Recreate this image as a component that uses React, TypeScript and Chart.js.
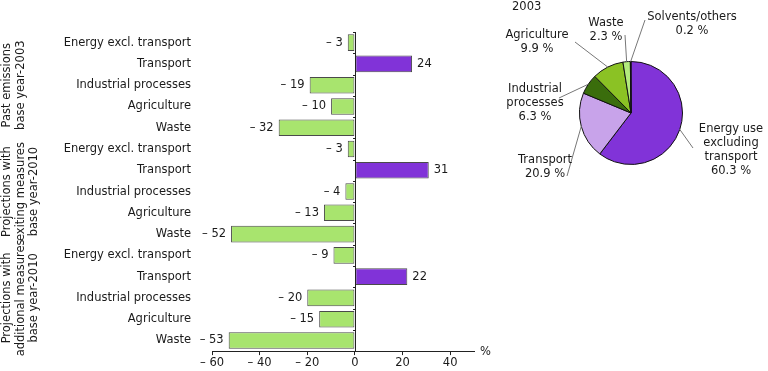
import React, { useEffect, useRef } from "react";
import { Chart, registerables } from "chart.js";

Chart.register(...registerables);

const categories = [
  "Energy excl. transport", "Transport", "Industrial processes", "Agriculture", "Waste",
  "Energy excl. transport", "Transport", "Industrial processes", "Agriculture", "Waste",
  "Energy excl. transport", "Transport", "Industrial processes", "Agriculture", "Waste",
];
const changeValues = [-3, 24, -19, -10, -32, -3, 31, -4, -13, -52, -9, 22, -20, -15, -53];
const groupLabels = [
  ["Past emissions", "base year-2003"],
  ["Projections with", "exiting measures", "base year-2010"],
  ["Projections with", "additional measures", "base year-2010"],
];
const xTicks = [-60, -40, -20, 0, 20, 40];

const pieTitle = "2003";
const pieLabels = ["Energy use excluding transport", "Transport", "Industrial processes", "Agriculture", "Waste", "Solvents/others"];
const pieValues = [60.3, 20.9, 6.3, 9.9, 2.3, 0.2];
const pieLabelLines = [
  ["Energy use", "excluding", "transport", "60.3 %"],
  ["Transport", "20.9 %"],
  ["Industrial", "processes", "6.3 %"],
  ["Agriculture", "9.9 %"],
  ["Waste", "2.3 %"],
  ["Solvents/others", "0.2 %"],
];

const FONT = "'DejaVu Sans', Verdana, sans-serif";
const FS = 11.5;
const TXT = "#1a1a1a";
const GREEN = "#a8e46e";
const PURPLE = "#8133d8";
const pieColors = ["#8133d8", "#c8a3ea", "#3a6d0c", "#8bc224", "#b3eb7c", "#1c1c1c"];

// label offsets relative to pie centre (text block centre, leader end)
const pieLabelPos = [
  { tx: 100, ty: 37, lx: 62, ly: 35 },
  { tx: -86, ty: 54, lx: -64, ly: 63 },
  { tx: -96, ty: -10, lx: -72, ly: -15 },
  { tx: -94, ty: -71, lx: -56, ly: -71 },
  { tx: -25, ty: -83, lx: -6, ly: -78 },
  { tx: 61, ty: -89, lx: 14, ly: -93 },
];

function fmt(v: number) {
  return v < 0 ? "\u2013 " + Math.abs(v) : String(v);
}

export default function App() {
  const barRef = useRef<HTMLCanvasElement>(null);
  const pieRef = useRef<HTMLCanvasElement>(null);

  useEffect(() => {
    document.body.style.margin = "0";
    const barPlugin = {
      id: "barExtras",
      afterDatasetsDraw(chart: any) {
        const ctx = chart.ctx;
        const xs = chart.scales.x;
        const area = chart.chartArea;
        const x0 = xs.getPixelForValue(0);
        ctx.save();
        ctx.strokeStyle = "#222";
        ctx.lineWidth = 1;
        ctx.beginPath();
        ctx.moveTo(Math.round(x0) + 0.5, area.top);
        ctx.lineTo(Math.round(x0) + 0.5, area.bottom);
        ctx.stroke();
        const step = (area.bottom - area.top) / categories.length;
        for (let i = 0; i <= categories.length; i++) {
          const y = Math.round(area.top + i * step) + 0.5;
          ctx.beginPath();
          ctx.moveTo(Math.round(x0) - 2, y);
          ctx.lineTo(Math.round(x0) + 0.5, y);
          ctx.stroke();
        }
        ctx.font = `${FS}px ${FONT}`;
        ctx.fillStyle = TXT;
        ctx.textBaseline = "middle";
        const meta = chart.getDatasetMeta(0);
        meta.data.forEach((bar: any, i: number) => {
          const v = changeValues[i];
          if (v < 0) {
            ctx.textAlign = "right";
            ctx.fillText(fmt(v), bar.x - 5, bar.y);
          } else {
            ctx.textAlign = "left";
            ctx.fillText(fmt(v), bar.x + 5, bar.y);
          }
        });
        ctx.textAlign = "left";
        ctx.textBaseline = "middle";
        ctx.fillText("%", area.right + 6, area.bottom + 1);
        groupLabels.forEach((lines, g) => {
          const yc = area.top + (g * 5 + 2.5) * step;
          ctx.save();
          ctx.translate(7, yc);
          ctx.rotate(-Math.PI / 2);
          ctx.textAlign = "center";
          ctx.textBaseline = "middle";
          lines.forEach((ln, k) => ctx.fillText(ln, 0, k * 13.7));
          ctx.restore();
        });
        ctx.restore();
      },
    };

    const bar = new Chart(barRef.current!, {
      type: "bar",
      data: {
        labels: categories,
        datasets: [
          {
            data: changeValues,
            backgroundColor: changeValues.map((_, i) => (categories[i] === "Transport" ? PURPLE : GREEN)),
            borderColor: "#4a4a4a",
            borderWidth: 1,
            borderSkipped: false,
            categoryPercentage: 0.78,
            barPercentage: 1,
          },
        ],
      },
      options: {
        indexAxis: "y",
        animation: false,
        responsive: false,
        maintainAspectRatio: false,
        layout: { padding: { top: 32, right: 26, left: 0, bottom: 0 } },
        plugins: { legend: { display: false }, tooltip: { enabled: false } },
        scales: {
          x: {
            min: -60,
            max: 50,
            afterBuildTicks(scale: any) {
              scale.ticks = xTicks.map((v) => ({ value: v }));
            },
            afterFit(scale: any) {
              scale.height = 18;
            },
            grid: { display: true, drawOnChartArea: false, drawTicks: true, tickLength: 4, color: "#222" },
            border: { display: true, color: "#222" },
            ticks: {
              font: { family: FONT, size: FS },
              color: TXT,
              padding: 1,
              maxRotation: 0,
              callback: (v: any) => fmt(Number(v)),
            },
          },
          y: {
            afterFit(scale: any) {
              scale.width = 212;
            },
            grid: { display: false },
            border: { display: false },
            ticks: {
              font: { family: FONT, size: FS },
              color: TXT,
              padding: 13,
              autoSkip: false,
            },
          },
        },
      },
      plugins: [barPlugin],
    } as any);

    const piePlugin = {
      id: "pieExtras",
      afterDatasetsDraw(chart: any) {
        const ctx = chart.ctx;
        const arcs = chart.getDatasetMeta(0).data;
        ctx.save();
        ctx.font = `${FS}px ${FONT}`;
        ctx.fillStyle = TXT;
        ctx.textAlign = "left";
        ctx.textBaseline = "middle";
        const a0 = arcs[0];
        const cx = a0.x;
        const cy = a0.y;
        ctx.fillText(pieTitle, cx - 119, cy - 106);
        arcs.forEach((arc: any, i: number) => {
          const mid = (arc.startAngle + arc.endAngle) / 2;
          const r = arc.outerRadius;
          const px = cx + Math.cos(mid) * r;
          const py = cy + Math.sin(mid) * r;
          const p = pieLabelPos[i];
          ctx.strokeStyle = "#777";
          ctx.lineWidth = 1;
          ctx.beginPath();
          ctx.moveTo(px, py);
          ctx.lineTo(cx + p.lx, cy + p.ly);
          ctx.stroke();
          const lines = pieLabelLines[i];
          const lh = 14;
          const top = cy + p.ty - ((lines.length - 1) * lh) / 2;
          ctx.textAlign = "center";
          lines.forEach((ln, k) => ctx.fillText(ln, cx + p.tx, top + k * lh));
        });
        ctx.restore();
      },
    };

    const pie = new Chart(pieRef.current!, {
      type: "pie",
      data: {
        labels: pieLabels,
        datasets: [
          {
            data: pieValues,
            backgroundColor: pieColors,
            borderColor: "#111",
            borderWidth: 1,
          },
        ],
      },
      options: {
        animation: false,
        responsive: false,
        maintainAspectRatio: false,
        layout: { padding: { left: 139, right: 85, top: 61, bottom: 35 } },
        plugins: { legend: { display: false }, tooltip: { enabled: false } },
      },
      plugins: [piePlugin],
    } as any);

    return () => {
      bar.destroy();
      pie.destroy();
    };
  }, []);

  return (
    <div style={{ position: "relative", width: 768, height: 371, background: "#fff" }}>
      <canvas ref={barRef} width={500} height={371} style={{ position: "absolute", left: 0, top: 0 }} />
      <canvas ref={pieRef} width={328} height={200} style={{ position: "absolute", left: 440, top: 0 }} />
    </div>
  );
}
